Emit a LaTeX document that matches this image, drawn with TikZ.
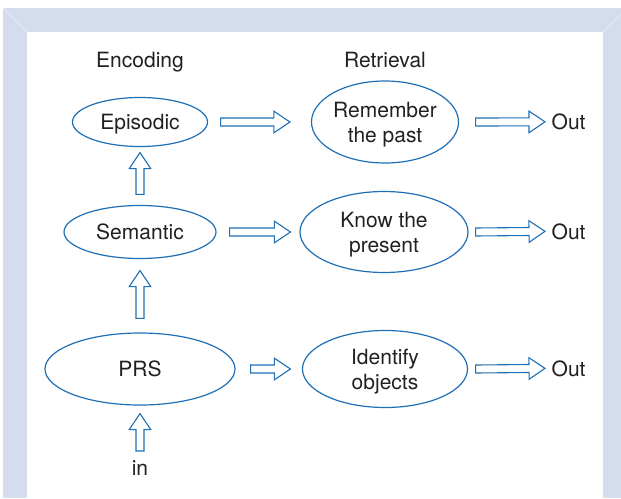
\documentclass[tikz,border=0pt]{standalone}
\usepackage{fontspec}
\setmainfont{TeX Gyre Heros}
\usetikzlibrary{calc, shapes.geometric}

\definecolor{framebg}{HTML}{D4DCEE}
\definecolor{lineblue}{HTML}{1F6FB6}
\definecolor{textgray}{HTML}{231F20}

\newcommand{\shaftw}{4pt}
\newcommand{\headw}{10.8pt}
\newcommand{\headlen}{16pt}

% hollow block arrow from #1 to #2
\newcommand{\hollowarrow}[2]{%
  \coordinate (ha-s) at (#1);
  \coordinate (ha-e) at (#2);
  \coordinate (ha-h) at ($(ha-e)!\headlen!(ha-s)$);
  \draw[hollow] ($(ha-s)!\shaftw!90:(ha-e)$) -- ($(ha-h)!\shaftw!90:(ha-e)$)
    -- ($(ha-h)!\headw!90:(ha-e)$) -- (ha-e) -- ($(ha-h)!\headw!-90:(ha-e)$)
    -- ($(ha-h)!\shaftw!-90:(ha-e)$) -- ($(ha-s)!\shaftw!-90:(ha-e)$) -- cycle;}

\begin{document}
\begin{tikzpicture}[x=1pt, y=-1pt, font=\fontsize{21}{25}\selectfont, text=textgray,
  memory/.style={ellipse, draw=lineblue, line width=1.2pt, inner sep=0pt, align=center, text depth=0pt},
  hollow/.style={draw=lineblue, line width=1.1pt, fill=white, line join=miter},
  plaintext/.style={inner sep=0pt}]

	% page and frame
	\useasboundingbox (0,0) rectangle (621,498);
	\fill[framebg] (3,8) rectangle (627,32);
	\fill[framebg] (3,8) rectangle (27,498);
	\fill[framebg] (603,8) rectangle (627,498);
	\draw[white!55!framebg, line width=0.6pt] (3,8) -- (27,32);
	\draw[white!55!framebg, line width=0.6pt] (627,8) -- (603,32);

	% column headings
	\node[plaintext, anchor=base] (enc) at (140,67.5) {Encoding};
	\node[plaintext, anchor=base] (ret) at (385,67.5) {Retrieval};

	% encoding side
	\node[memory, minimum width=135pt, minimum height=49pt] (episodic) at (140,122) {Episodic};
	\node[memory, minimum width=152pt, minimum height=53pt] (semantic) at (140,232) {Semantic};
	\node[memory, minimum width=190pt, minimum height=72pt] (prs) at (140,369) {PRS};
	\node[plaintext, anchor=base] (in) at (140,475) {in};

	% retrieval side
	\node[memory, minimum width=147pt, minimum height=82pt] (past) at (385,122) {Remember\\the past};
	\node[memory, minimum width=168pt, minimum height=81pt] (present) at (384,232) {Know the\\present};
	\node[memory, minimum width=165pt, minimum height=77pt] (objects) at (385,369) {Identify\\objects};

	\node[plaintext, anchor=base west] (out1) at (551.5,129.5) {Out};
	\node[plaintext, anchor=base west] (out2) at (551.5,239) {Out};
	\node[plaintext, anchor=base west] (out3) at (551.5,376) {Out};

	% arrows
	\hollowarrow{[xshift=12.5pt]episodic.east}{[xshift=-21pt]past.west}
	\hollowarrow{[xshift=16.5pt]past.east}{[xshift=-6.5pt]out1.west}
	\hollowarrow{[xshift=13pt]semantic.east}{[xshift=-9pt]present.west}
	\hollowarrow{[xshift=7pt]present.east}{[xshift=-6.5pt]out2.west}
	\hollowarrow{[xshift=15pt]prs.east}{[xshift=-11.5pt]objects.west}
	\hollowarrow{[xshift=7.5pt]objects.east}{[xshift=-6.5pt]out3.west}
	\hollowarrow{[yshift=10.5pt]semantic.north}{[yshift=-5.5pt]episodic.south}
	\hollowarrow{[yshift=14pt]prs.north}{[yshift=-11.5pt]semantic.south}
	\hollowarrow{[yshift=9pt]in.north}{[yshift=-8pt]prs.south}

\end{tikzpicture}
\end{document}
